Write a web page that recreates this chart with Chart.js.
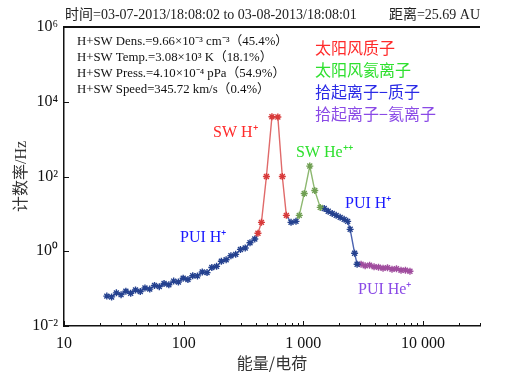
<!DOCTYPE html>
<html>
<head>
<meta charset="utf-8">
<script src="https://cdn.jsdelivr.net/npm/chart.js@4/dist/chart.umd.min.js"></script>
<style>
html,body{margin:0;padding:0;background:#fff}
#wrap{width:512px;height:373px}
</style>
</head>
<body>
<div id="wrap"><canvas id="c" width="512" height="373"></canvas></div>
<script>
// Energy per charge (x) and count rate in Hz (y) for each ion population
const puiLowE = [22.8, 25.0, 27.4, 30.0, 32.9, 36.1, 39.6, 43.4, 47.5, 52.1, 57.1, 62.6, 68.6, 75.2, 82.5, 90.4,
                 99.1, 108.6, 119.1, 130.5, 143.1, 156.9, 172.0, 188.5, 206.7, 226.6, 248.4, 272.3, 298.5, 327.2, 358.7, 393.2];
const puiLowC = [0.063, 0.060, 0.077, 0.069, 0.085, 0.075, 0.092, 0.084, 0.104, 0.097, 0.122, 0.113, 0.137, 0.127, 0.159, 0.151,
                 0.190, 0.175, 0.221, 0.219, 0.279, 0.268, 0.367, 0.394, 0.538, 0.593, 0.759, 0.826, 1.12, 1.22, 1.69, 2.13];

const swHE = [418, 447, 492, 547, 613, 668, 722];
const swHC = [3.02, 5.93, 100, 3980, 3900, 100, 9.12];

const puiMidE = [790, 869];
const puiMidC = [5.93, 6.31];

const swHeE = [926, 1019, 1133, 1247, 1386];
const swHeC = [9.12, 35.2, 190, 42.4, 14.9];

const puiHighE = [1496, 1616, 1745, 1884, 2034, 2196, 2349, 2465, 2686, 2818];
const puiHighC = [14.0, 11.7, 10.3, 9.12, 8.07, 7.13, 6.31, 3.86, 0.885, 0.45];

const puiHeE = [3042, 3290, 3583, 3905, 4256, 4642, 5058, 5517, 6012, 6561, 7145, 7792];
const puiHeC = [0.45, 0.41, 0.424, 0.386, 0.374, 0.352, 0.363, 0.331, 0.341, 0.311, 0.311, 0.293];

// Axis ticks
const xMajorValues = [10, 100, 1000, 10000];
const xMajorLabels = ['10', '100', '1 000', '10 000'];
const yTickValues = [0.01, 1, 100, 1e4, 1e6];
const yTickLabels = ['10\u207B\u00B2', '10\u2070', '10\u00B2', '10\u2074', '10\u2076'];

const SERIF = '"Liberation Serif", "Noto Sans CJK SC", serif';

// Series, each starting from the last point of the previous one so the trace is continuous
function series(prevE, prevC, E, C, line, mark) {
  const data = [];
  const radius = [];
  if (prevE) { data.push({x: prevE[prevE.length - 1], y: prevC[prevC.length - 1]}); radius.push(0); }
  E.forEach((e, i) => { data.push({x: e, y: C[i]}); radius.push(3.5); });
  return {
    data, borderColor: line, borderWidth: 1.4, pointRadius: radius, pointStyle: 'star',
    pointBorderColor: mark, pointBackgroundColor: mark, pointBorderWidth: 1.4, tension: 0
  };
}

const BLUE_L = '#4a62b0', BLUE_M = '#24418f';
const RED_L = '#e06a6a', RED_M = '#d83a3a';
const GRN_L = '#8db870', GRN_M = '#6f9f52';
const PUR_L = '#b868b8', PUR_M = '#a04d9e';

const datasets = [
  series(null, null, puiLowE, puiLowC, BLUE_L, BLUE_M),
  series(puiLowE, puiLowC, swHE, swHC, RED_L, RED_M),
  series(swHE, swHC, puiMidE, puiMidC, BLUE_L, BLUE_M),
  series(puiMidE, puiMidC, swHeE, swHeC, GRN_L, GRN_M),
  series(swHeE, swHeC, puiHighE, puiHighC, BLUE_L, BLUE_M),
  series(puiHighE, puiHighC, puiHeE, puiHeC, PUR_L, PUR_M)
];

function xTicks() {
  const t = [];
  for (let d = 10; d <= 10000; d *= 10)
    for (let m = 1; m <= 9; m++) { const v = d * m; if (v <= 30000) t.push(v); }
  return t;
}

const decor = {
  id: 'decor',
  afterDraw(chart) {
    const ctx = chart.ctx, a = chart.chartArea;
    const xs = chart.scales.x, ys = chart.scales.y;
    ctx.save();
    ctx.strokeStyle = '#111';
    // top frame line
    ctx.lineWidth = 2;
    ctx.beginPath(); ctx.moveTo(a.left - 1, a.top); ctx.lineTo(a.right, a.top); ctx.stroke();
    // inward ticks on x axis
    ctx.lineWidth = 1;
    xTicks().forEach(v => {
      const px = Math.round(xs.getPixelForValue(v)) + 0.5;
      const len = xMajorValues.includes(v) ? 5 : 3;
      ctx.beginPath(); ctx.moveTo(px, a.bottom); ctx.lineTo(px, a.bottom - len); ctx.stroke();
    });
    // inward ticks on y axis
    yTickValues.forEach(v => {
      const py = Math.round(ys.getPixelForValue(v)) + 0.5;
      ctx.beginPath(); ctx.moveTo(a.left, py); ctx.lineTo(a.left + 5, py); ctx.stroke();
    });

    ctx.textBaseline = 'middle';
    // header line
    ctx.fillStyle = '#222';
    ctx.font = '14px ' + SERIF;
    ctx.textAlign = 'left';
    ctx.fillText('时间=03-07-2013/18:08:02 to 03-08-2013/18:08:01', a.left + 1, a.top - 12);
    ctx.textAlign = 'right';
    ctx.fillText('距离=25.69 AU', a.right, a.top - 12);

    // plasma moments
    ctx.textAlign = 'left';
    ctx.fillStyle = '#111';
    ctx.font = '12.8px ' + SERIF;
    const stats = [
      'H+SW Dens.=9.66×10\u207B\u00B3 cm\u207B\u00B3（45.4%）',
      'H+SW Temp.=3.08×10\u00B3 K（18.1%）',
      'H+SW Press.=4.10×10\u207B\u2074 pPa（54.9%）',
      'H+SW Speed=345.72 km/s（0.4%）'
    ];
    stats.forEach((s, i) => ctx.fillText(s, a.left + 13, a.top + 15 + i * 16));

    // population key
    ctx.font = '16px "Noto Sans CJK SC", sans-serif';
    const key = [['太阳风质子', '#ff2a2a'], ['太阳风氦离子', '#2ee02e'], ['拾起离子−质子', '#2a2ae6'], ['拾起离子−氦离子', '#8a4ae6']];
    key.forEach((k, i) => { ctx.fillStyle = k[1]; ctx.fillText(k[0], a.left + 251, a.top + 21 + i * 22); });

    // peak labels
    ctx.font = '16px ' + SERIF;
    const tags = [
      ['SW H\u207A', '#ff2a2a', 213, 133],
      ['SW He\u207A\u207A', '#2ee02e', 296, 153],
      ['PUI H\u207A', '#1a1aff', 345, 204],
      ['PUI H\u207A', '#1a1aff', 180, 238],
      ['PUI He\u207A', '#8a4ae6', 358, 290]
    ];
    tags.forEach(t => { ctx.fillStyle = t[1]; ctx.fillText(t[0], t[2], t[3]); });
    ctx.restore();
  }
};

new Chart(document.getElementById('c'), {
  type: 'line',
  data: { datasets },
  options: {
    responsive: false,
    animation: false,
    layout: { padding: { top: 27, right: 32, left: 0, bottom: 0 } },
    plugins: { legend: { display: false }, tooltip: { enabled: false } },
    scales: {
      x: {
        type: 'logarithmic', min: 10, max: 30000,
        afterFit(s) { s.height = 47; },
        afterBuildTicks(s) { s.ticks = xTicks().map(v => ({ value: v })); },
        grid: { display: false, drawTicks: false },
        border: { display: true, color: '#111', width: 1.5 },
        ticks: {
          autoSkip: false, maxRotation: 0, padding: 8, color: '#111',
          font: { family: SERIF, size: 16 },
          callback(v) { const i = xMajorValues.indexOf(v); return i >= 0 ? xMajorLabels[i] : ''; }
        },
        title: { display: true, text: '能量/电荷', color: '#333', padding: { top: 0, bottom: 0 },
                 font: { family: '"Noto Sans CJK SC", sans-serif', size: 16 } }
      },
      y: {
        type: 'logarithmic', min: 0.01, max: 1e6,
        afterFit(s) { s.width = 64; },
        afterBuildTicks(s) { s.ticks = yTickValues.map(v => ({ value: v })); },
        grid: { display: false, drawTicks: false },
        border: { display: true, color: '#111', width: 1.5 },
        ticks: {
          autoSkip: false, padding: 6, color: '#111',
          font: { family: SERIF, size: 16 },
          callback(v) { const i = yTickValues.indexOf(v); return i >= 0 ? yTickLabels[i] : ''; }
        },
        title: { display: true, text: '计数率/Hz', color: '#333', padding: { top: 12, bottom: 0 },
                 font: { family: SERIF, size: 16 } }
      }
    }
  },
  plugins: [decor]
});
</script>
</body>
</html>
